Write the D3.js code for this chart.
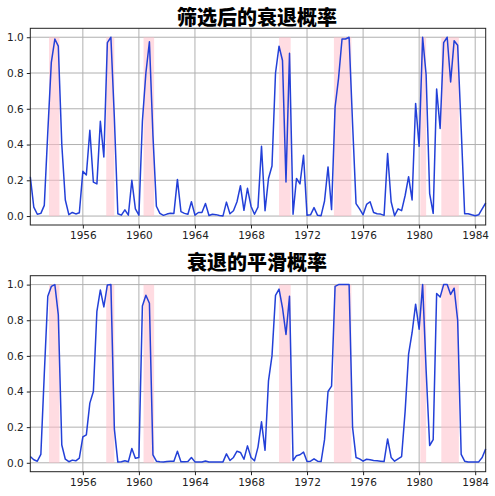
<!DOCTYPE html>
<html>
<head>
<meta charset="utf-8">
<script src="https://cdn.jsdelivr.net/npm/d3@7"></script>
<style>
  body { margin: 0; background: #fff; }
  svg { display: block; }
</style>
</head>
<body>
<script>
//Data
const titles = ["筛选后的衰退概率", "衰退的平滑概率"];

// quarterly observations, 1952Q2 .. 1984Q4
const firstQuarter = new Date(1952, 3, 1);
const lastQuarter = new Date(1984, 9, 1);

const filtered = [
  0.22, 0.05, 0.01, 0.015, 0.06, 0.47, 0.86, 0.99, 0.95, 0.40,
  0.09, 0.008, 0.02, 0.012, 0.018, 0.25, 0.23, 0.48, 0.19, 0.18,
  0.53, 0.33, 0.97, 1.0, 0.55, 0.013, 0.005, 0.035, 0.005, 0.20,
  0.04, 0.005, 0.53, 0.80, 0.975, 0.45, 0.055, 0.015, 0.004, 0.011,
  0.016, 0.015, 0.205, 0.025, 0.015, 0.01, 0.08, 0.005, 0.02, 0.02,
  0.07, 0.003, 0.01, 0.008, 0.003, 0.001, 0.078, 0.013, 0.03, 0.08,
  0.17, 0.032, 0.155, 0.055, 0.01, 0.05, 0.39, 0.03, 0.21, 0.28,
  0.80, 0.95, 0.87, 0.19, 0.91, 0.01, 0.21, 0.18, 0.34, 0.004,
  0.007, 0.047, 0.004, 0.002, 0.084, 0.275, 0.036, 0.61, 0.77, 0.99,
  0.99, 1.0, 0.52, 0.07, 0.04, 0.007, 0.065, 0.08, 0.02, 0.013,
  0.011, 0.004, 0.35, 0.08, 0.002, 0.04, 0.03, 0.115, 0.22, 0.09,
  0.63, 0.39, 1.0, 0.79, 0.125, 0.015, 0.71, 0.49, 0.97, 1.0,
  0.75, 0.98, 0.955, 0.49, 0.013, 0.013, 0.007, 0.002, 0.007, 0.04,
  0.073
];

const smoothed = [
  0.035, 0.017, 0.009, 0.047, 0.5, 0.935, 0.99, 1.0, 0.83, 0.1,
  0.02, 0.006, 0.015, 0.011, 0.026, 0.145, 0.157, 0.335, 0.40, 0.85,
  0.97, 0.875, 0.998, 1.0, 0.19, 0.004, 0.006, 0.011, 0.006, 0.08,
  0.026, 0.03, 0.88, 0.94, 0.895, 0.045, 0.009, 0.006, 0.004, 0.007,
  0.009, 0.009, 0.065, 0.006, 0.006, 0.007, 0.03, 0.005, 0.005, 0.005,
  0.01, 0.005, 0.005, 0.005, 0.004, 0.005, 0.05, 0.013, 0.03, 0.065,
  0.058, 0.02, 0.095, 0.03, 0.011, 0.088, 0.23, 0.07, 0.46, 0.60,
  0.94, 0.975, 0.87, 0.72, 0.935, 0.013, 0.04, 0.045, 0.06, 0.007,
  0.009, 0.022, 0.009, 0.007, 0.13, 0.40, 0.43, 0.99, 1.0, 1.0,
  1.0, 1.0, 0.2, 0.03, 0.022, 0.009, 0.02, 0.017, 0.013, 0.011,
  0.009, 0.007, 0.134, 0.03, 0.009, 0.022, 0.035, 0.29, 0.61, 0.73,
  0.89, 0.75, 1.0, 0.52, 0.097, 0.13, 0.95, 0.93, 1.0, 1.0,
  0.945, 0.98, 0.80, 0.047, 0.009, 0.005, 0.005, 0.005, 0.005, 0.03,
  0.078
];

// NBER recessions (first and last recession month)
const recessionStart = ["1953-08", "1957-09", "1960-05", "1970-01", "1973-12", "1980-02", "1981-08"];
const recessionEnd   = ["1954-05", "1958-04", "1961-02", "1970-11", "1975-03", "1980-07", "1982-11"];

const xTickYears = [1956, 1960, 1964, 1968, 1972, 1976, 1980, 1984];
const yTicks = [0.0, 0.2, 0.4, 0.6, 0.8, 1.0];

//Layout
const width = 495;
const height = 496;
const left = 30.3;
const right = 485.7;
const panels = [
  { top: 28.3, bottom: 225, titleY: 25, values: filtered, title: titles[0] },
  { top: 275.7, bottom: 471.7, titleY: 270, values: smoothed, title: titles[1] }
];

const parseMonth = d3.timeParse("%Y-%m");
const quarters = d3.timeMonth.every(3).range(firstQuarter, d3.timeMonth.offset(lastQuarter, 1));
const recessions = recessionStart.map((s, i) => [parseMonth(s), parseMonth(recessionEnd[i])]);

const svg = d3.select("body")
  .append("svg")
  .attr("width", width)
  .attr("height", height);

const xScale = d3.scaleTime()
  .domain([firstQuarter, lastQuarter])
  .range([left, right]);

panels.forEach(p => {
  const yScale = d3.scaleLinear()
    .domain([-0.05, 1.05])
    .range([p.bottom, p.top]);

  const g = svg.append("g");

//Title
  svg.append("text")
    .attr("x", 257)
    .attr("y", p.titleY)
    .attr("text-anchor", "middle")
    .attr("font-family", "'Noto Sans CJK SC', sans-serif")
    .attr("font-weight", 900)
    .attr("font-size", 20)
    .attr("fill", "#000")
    .text(p.title);

//Grid
  g.append("g")
    .selectAll("line")
    .data(yTicks)
    .join("line")
    .attr("x1", left).attr("x2", right)
    .attr("y1", d => yScale(d)).attr("y2", d => yScale(d))
    .attr("stroke", "#b0b0b0").attr("stroke-width", 1);

  g.append("g")
    .selectAll("line")
    .data(xTickYears)
    .join("line")
    .attr("x1", d => xScale(new Date(d, 0, 1))).attr("x2", d => xScale(new Date(d, 0, 1)))
    .attr("y1", p.top).attr("y2", p.bottom)
    .attr("stroke", "#b0b0b0").attr("stroke-width", 1);

//Recession shading
  g.append("g")
    .selectAll("rect")
    .data(recessions)
    .join("rect")
    .attr("x", d => xScale(d[0]))
    .attr("width", d => xScale(d[1]) - xScale(d[0]))
    .attr("y", yScale(1))
    .attr("height", yScale(0) - yScale(1))
    .attr("fill", "#ffc0cb")
    .attr("opacity", 0.55);

//Line
  const line = d3.line()
    .x((d, i) => xScale(quarters[i]))
    .y(d => yScale(d));

  g.append("path")
    .datum(p.values)
    .attr("d", line)
    .attr("fill", "none")
    .attr("stroke", "#2340d8")
    .attr("stroke-width", 1.5)
    .attr("stroke-linejoin", "round");

//Axes
  const xAxis = d3.axisBottom(xScale)
    .tickValues(xTickYears.map(y => new Date(y, 0, 1)))
    .tickFormat(d3.timeFormat("%Y"))
    .tickSize(3.5)
    .tickSizeOuter(0);

  const yAxis = d3.axisLeft(yScale)
    .tickValues(yTicks)
    .tickFormat(d3.format(".1f"))
    .tickSize(3.5)
    .tickSizeOuter(0);

  const xg = g.append("g")
    .attr("transform", `translate(0, ${p.bottom})`)
    .call(xAxis);

  const yg = g.append("g")
    .attr("transform", `translate(${left}, 0)`)
    .call(yAxis);

  [xg, yg].forEach(a => {
    a.select(".domain").remove();
    a.selectAll("text")
      .attr("font-family", "'DejaVu Sans', sans-serif")
      .attr("font-size", 10.5)
      .attr("fill", "#222");
    a.selectAll("line").attr("stroke", "#222");
  });

//Frame
  g.append("rect")
    .attr("x", left)
    .attr("y", p.top)
    .attr("width", right - left)
    .attr("height", p.bottom - p.top)
    .attr("fill", "none")
    .attr("stroke", "#222")
    .attr("stroke-width", 1);
});
</script>
</body>
</html>
